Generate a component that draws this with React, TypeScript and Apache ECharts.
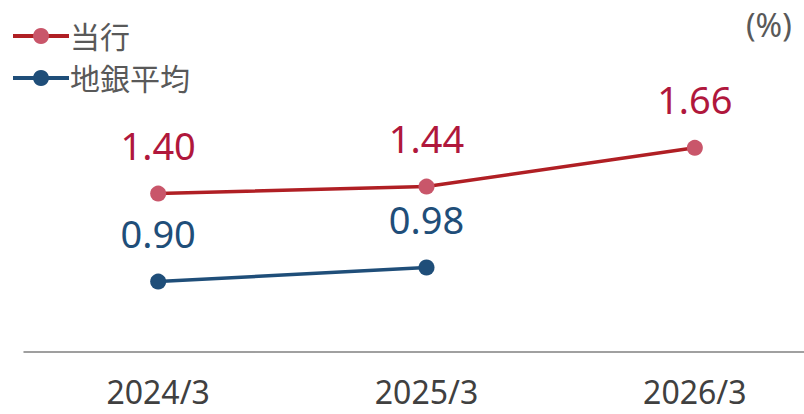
import React, { useEffect, useRef } from "react";
import * as echarts from "echarts";

const categories = ["2024/3", "2025/3", "2026/3"];
const bankValues: (number | null)[] = [1.4, 1.44, 1.66];
const avgValues: (number | null)[] = [0.9, 0.98, null];
const seriesNames = ["当行", "地銀平均"];
const unitLabel = "(%)";

export default function App() {
  const ref = useRef<HTMLDivElement>(null);
  useEffect(() => {
    document.body.style.margin = "0";
    const chart = echarts.init(ref.current!, null, { renderer: "svg" });
    const font = "'Noto Sans', 'Noto Sans CJK JP', sans-serif";
    chart.setOption({
      animation: false,
      textStyle: { fontFamily: font },
      grid: { left: 24, top: 88, width: 805, height: 264 },
      legend: {
        left: 6,
        top: 16,
        orient: "vertical",
        itemGap: 12,
        itemWidth: 56,
        itemHeight: 20,
        lineStyle: { width: 4 },
        textStyle: { fontSize: 30, color: "#595959", fontFamily: font, padding: [0, 0, 0, -4] },
        data: seriesNames,
      },
      graphic: [
        {
          type: "text",
          left: 746,
          top: 8,
          style: { text: unitLabel, fontSize: 32, fill: "#595959", fontFamily: font },
        },
      ],
      xAxis: {
        type: "category",
        data: categories,
        boundaryGap: true,
        axisLine: { lineStyle: { color: "#808080", width: 1.5 } },
        axisTick: { show: false },
        axisLabel: { fontSize: 32, lineHeight: 26, color: "#404040", margin: 26, fontFamily: font },
      },
      yAxis: {
        type: "value",
        min: 0.5,
        max: 2.0,
        show: false,
        splitLine: { show: false },
      },
      series: [
        {
          name: seriesNames[0],
          type: "line",
          data: bankValues,
          symbol: "circle",
          symbolSize: 16,
          lineStyle: { color: "#b01f24", width: 3.5 },
          itemStyle: { color: "#c9566a" },
          label: {
            show: true,
            position: "top",
            distance: 22,
            fontSize: 38,
            color: "#b0173c",
            fontFamily: font,
            formatter: (p: any) => p.value.toFixed(2),
          },
        },
        {
          name: seriesNames[1],
          type: "line",
          data: avgValues,
          symbol: "circle",
          symbolSize: 16,
          lineStyle: { color: "#1f4e79", width: 3.5 },
          itemStyle: { color: "#1f4e79" },
          label: {
            show: true,
            position: "top",
            distance: 22,
            fontSize: 38,
            color: "#1f4e79",
            fontFamily: font,
            formatter: (p: any) => p.value.toFixed(2),
          },
        },
      ],
    });
    return () => chart.dispose();
  }, []);
  return (
    <div style={{ width: 804, height: 414, overflow: "hidden", position: "relative" }}>
      <div ref={ref} style={{ width: 830, height: 414 }} />
    </div>
  );
}
